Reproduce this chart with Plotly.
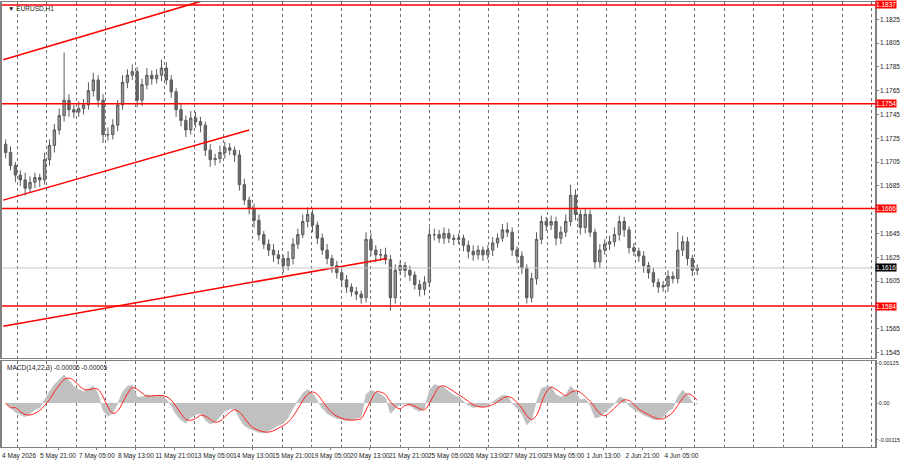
import numpy as np
import plotly.graph_objects as go

# EURUSD 4-hour closes (bar k covers hours 4k..4k+3 from 4 May 00:00)
closes = [
    1.1713, 1.1702, 1.1694, 1.1690, 1.1683, 1.1688, 1.1692, 1.1690, 1.1707, 1.1719,
    1.1732, 1.1744, 1.1757, 1.1749, 1.1747, 1.1750, 1.1753, 1.1765, 1.1774, 1.1757,
    1.1728, 1.1728, 1.1736, 1.1753, 1.1772, 1.1778, 1.1781, 1.1757, 1.1770, 1.1778,
    1.1775, 1.1778, 1.1784, 1.1774, 1.1764, 1.1749, 1.1740, 1.1732, 1.1742, 1.1739,
    1.1736, 1.1715, 1.1707, 1.1708, 1.1713, 1.1717, 1.1715, 1.1711, 1.1686, 1.1673,
    1.1666, 1.1656, 1.1644, 1.1636, 1.1631, 1.1627, 1.1624, 1.1618, 1.1624, 1.1636,
    1.1644, 1.1655, 1.1661, 1.1652, 1.1641, 1.1631, 1.1624, 1.1618, 1.1612, 1.1606,
    1.1600, 1.1596, 1.1594, 1.1591, 1.1640, 1.1631, 1.1627, 1.1627, 1.1623, 1.1591,
    1.1614, 1.1618, 1.1614, 1.1610, 1.1602, 1.1598, 1.1604, 1.1644, 1.1644, 1.1641,
    1.1645, 1.1641, 1.1640, 1.1641, 1.1635, 1.1630, 1.1627, 1.1631, 1.1627, 1.1631,
    1.1637, 1.1641, 1.1648, 1.1646, 1.1631, 1.1626, 1.1616, 1.1591, 1.1607, 1.1640,
    1.1655, 1.1652, 1.1655, 1.1641, 1.1646, 1.1655, 1.1677, 1.1661, 1.1650, 1.1661,
    1.1646, 1.1621, 1.1631, 1.1636, 1.1638, 1.1644, 1.1655, 1.1648, 1.1633, 1.1630,
    1.1626, 1.1618, 1.1612, 1.1604, 1.1600, 1.1601, 1.1609, 1.1607, 1.1631, 1.1638,
    1.1624, 1.1614, 1.1616,
]
first_open = 1.1720
# wick sizes in pips above / below the candle body
wick_up = [
    4, 5, 3, 4, 6, 5, 4, 3, 6, 5, 5, 6, 40, 5, 4, 6, 5, 7, 6, 4,
    5, 6, 5, 4, 6, 5, 6, 4, 5, 6, 4, 5, 7, 5, 4, 3, 5, 4, 6, 5,
    4, 3, 5, 4, 6, 5, 4, 3, 4, 5, 3, 4, 5, 3, 4, 5, 4, 3, 6, 5,
    5, 6, 6, 4, 3, 4, 5, 3, 4, 3, 4, 3, 4, 3, 6, 5, 4, 5, 6, 4,
    5, 4, 3, 4, 3, 4, 5, 6, 5, 4, 5, 4, 3, 4, 3, 4, 5, 4, 3, 4,
    5, 4, 5, 6, 4, 3, 4, 3, 5, 6, 5, 4, 5, 4, 5, 6, 9, 5, 4, 5,
    4, 3, 5, 4, 5, 6, 5, 4, 3, 4, 3, 4, 3, 4, 3, 4, 5, 4, 15, 5,
    4, 3, 3,
]
wick_dn = [
    5, 4, 6, 5, 6, 4, 5, 6, 4, 5, 6, 4, 5, 6, 5, 4, 5, 4, 5, 6,
    7, 5, 4, 5, 4, 5, 4, 6, 5, 4, 5, 4, 5, 4, 5, 6, 5, 6, 4, 5,
    6, 5, 6, 5, 4, 5, 4, 6, 5, 4, 5, 6, 5, 4, 5, 6, 5, 6, 4, 5,
    4, 3, 5, 6, 5, 4, 5, 6, 5, 6, 5, 4, 5, 5, 4, 5, 6, 5, 4, 11,
    5, 4, 6, 5, 4, 6, 5, 4, 5, 4, 5, 4, 5, 4, 5, 6, 5, 4, 5, 4,
    5, 4, 3, 4, 5, 6, 5, 5, 4, 5, 4, 5, 4, 6, 5, 4, 4, 5, 6, 5,
    4, 6, 5, 4, 5, 4, 5, 6, 5, 4, 5, 6, 5, 4, 5, 4, 5, 4, 4, 5,
    6, 5, 4,
]

levels = [1.1837, 1.1754, 1.1666, 1.1584]
current_price = 1.1616
price_ticks = [1.1545, 1.1565, 1.1605, 1.1625, 1.1645, 1.1685, 1.1705, 1.1725,
               1.1745, 1.1765, 1.1785, 1.1805, 1.1825]

# trend lines: (hour, price) pairs
trend_lines = [
    ([0, 162], [1.1791, 1.1840]),
    ([0, 202], [1.1673, 1.1732]),
    ([0, 315], [1.1567, 1.1624]),
]

label_hours = [13, 45, 77, 109, 141, 173, 205, 237, 269, 301, 333, 365, 397, 429,
               461, 493, 525, 557]
label_text = ["4 May 2026", "5 May 21:00", "7 May 05:00", "8 May 13:00", "11 May 21:00",
              "13 May 05:00", "14 May 13:00", "15 May 21:00", "19 May 05:00",
              "20 May 13:00", "21 May 21:00", "25 May 05:00", "26 May 13:00",
              "27 May 21:00", "29 May 05:00", "1 Jun 13:00", "2 Jun 21:00", "4 Jun 05:00"]

closes = np.array(closes)
opens = np.concatenate([[first_open], closes[:-1]])
highs = np.maximum(opens, closes) + np.array(wick_up) * 0.0001
lows = np.minimum(opens, closes) - np.array(wick_dn) * 0.0001
hours = np.arange(len(closes)) * 4 + 2


def ema(values, period_hours):
    a = 1 - (1 - 2 / (period_hours + 1)) ** 4
    out = [values[0]]
    for v in values[1:]:
        out.append(out[-1] + a * (v - out[-1]))
    return np.array(out)


macd = ema(closes, 14) - ema(closes, 22)
signal = np.convolve(macd, np.ones(3) / 3, mode="full")[: len(macd)]
signal[:2] = macd[:2]

GRID = "#707070"
FAM = "Liberation Sans Narrow, Liberation Sans"
FONT = dict(family=FAM, size=6.5, color="#222")
LBL = dict(family=FAM, size=6.5, color="white")

fig = go.Figure()
fig.add_trace(go.Candlestick(
    x=hours, open=opens, high=highs, low=lows, close=closes,
    increasing=dict(line=dict(color="#5a5a5a", width=1), fillcolor="#9a9a9a"),
    decreasing=dict(line=dict(color="#5a5a5a", width=1), fillcolor="#6a6a6a"),
    whiskerwidth=0, xaxis="x", yaxis="y", showlegend=False,
))
for hx, py in trend_lines:
    fig.add_trace(go.Scatter(x=hx, y=py, mode="lines", line=dict(color="#ff0000", width=1.5),
                             xaxis="x", yaxis="y", showlegend=False, hoverinfo="skip"))
for lv in levels:
    fig.add_hline(y=lv, line=dict(color="#ff0000", width=1.5), xref="x", yref="y")
fig.add_hline(y=current_price, line=dict(color="#c8c8c8", width=1), xref="x", yref="y")

fig.add_trace(go.Scatter(x=hours, y=macd, mode="lines", fill="tozeroy",
                         fillcolor="#c0c0c0", line=dict(color="#c0c0c0", width=0.5),
                         xaxis="x2", yaxis="y2", showlegend=False))
fig.add_trace(go.Scatter(x=hours, y=signal, mode="lines",
                         line=dict(color="#ff2020", width=1, shape="spline"),
                         xaxis="x2", yaxis="y2", showlegend=False))
fig.add_trace(go.Scatter(x=[label_hours[0]], y=[0], mode="markers", opacity=0,
                         xaxis="x3", yaxis="y2", showlegend=False, hoverinfo="skip"))

xr = [-1, 716]
grid_ax = dict(range=xr, showgrid=True, gridcolor=GRID, griddash="dot", gridwidth=1,
               tick0=11.5, dtick=24.2, showticklabels=False, ticks="", zeroline=False,
               showline=True, linecolor="#808080", mirror=True, automargin=False)
yax = dict(side="right", showgrid=False, ticks="outside", ticklen=2, tickcolor="#808080",
           zeroline=False, showline=True, linecolor="#808080", mirror=True, linewidth=1.5,
           automargin=False, tickfont=FONT)
fig.update_layout(
    width=900, height=460, paper_bgcolor="white", plot_bgcolor="white",
    margin=dict(l=2, r=25, t=2, b=13), font=FONT,
    xaxis=dict(grid_ax, anchor="y", rangeslider=dict(visible=False)),
    xaxis2=dict(grid_ax, anchor="y2"),
    xaxis3=dict(range=xr, overlaying="x2", anchor="y2", side="bottom",
                tickvals=label_hours, ticktext=label_text, showgrid=False, tickangle=0,
                ticks="outside", ticklen=2, tickcolor="#808080", zeroline=False,
                tickfont=FONT, automargin=False),
    yaxis=dict(yax, domain=[0.2, 1], range=[1.15403, 1.18395],
               tickvals=price_ticks, tickformat=".4f"),
    yaxis2=dict(yax, domain=[0, 0.193], range=[-0.00137, 0.00131],
                tickvals=[-0.00115, 0, 0.00125], ticktext=["-0.00115", "0.00", "0.00125"],
                tickfont=dict(family=FAM, size=5.5, color="#222"), ticklen=1),
)

for lv in levels:
    fig.add_annotation(x=1.0, xref="paper", y=lv, yref="y", text=f"{lv:.4f}",
                       showarrow=False, xanchor="left", bgcolor="#ff0000",
                       font=LBL, borderpad=0)
fig.add_annotation(x=1.0, xref="paper", y=current_price, yref="y", text=f"{current_price:.4f}",
                   showarrow=False, xanchor="left", bgcolor="#000000", font=LBL, borderpad=0)
fig.add_annotation(x=0.005, xref="paper", y=0.997, yref="paper", text="▼ EURUSD,H1",
                   showarrow=False, xanchor="left", yanchor="top", font=FONT)
fig.add_annotation(x=0.003, xref="paper", y=0.19, yref="paper",
                   text="MACD(14,22,3) -0.00005 -0.00005", showarrow=False,
                   xanchor="left", yanchor="top", font=FONT)

fig.write_html("out.html", config={"displayModeBar": False},
               post_script="document.body.style.margin='0';document.body.style.overflow='hidden';")
